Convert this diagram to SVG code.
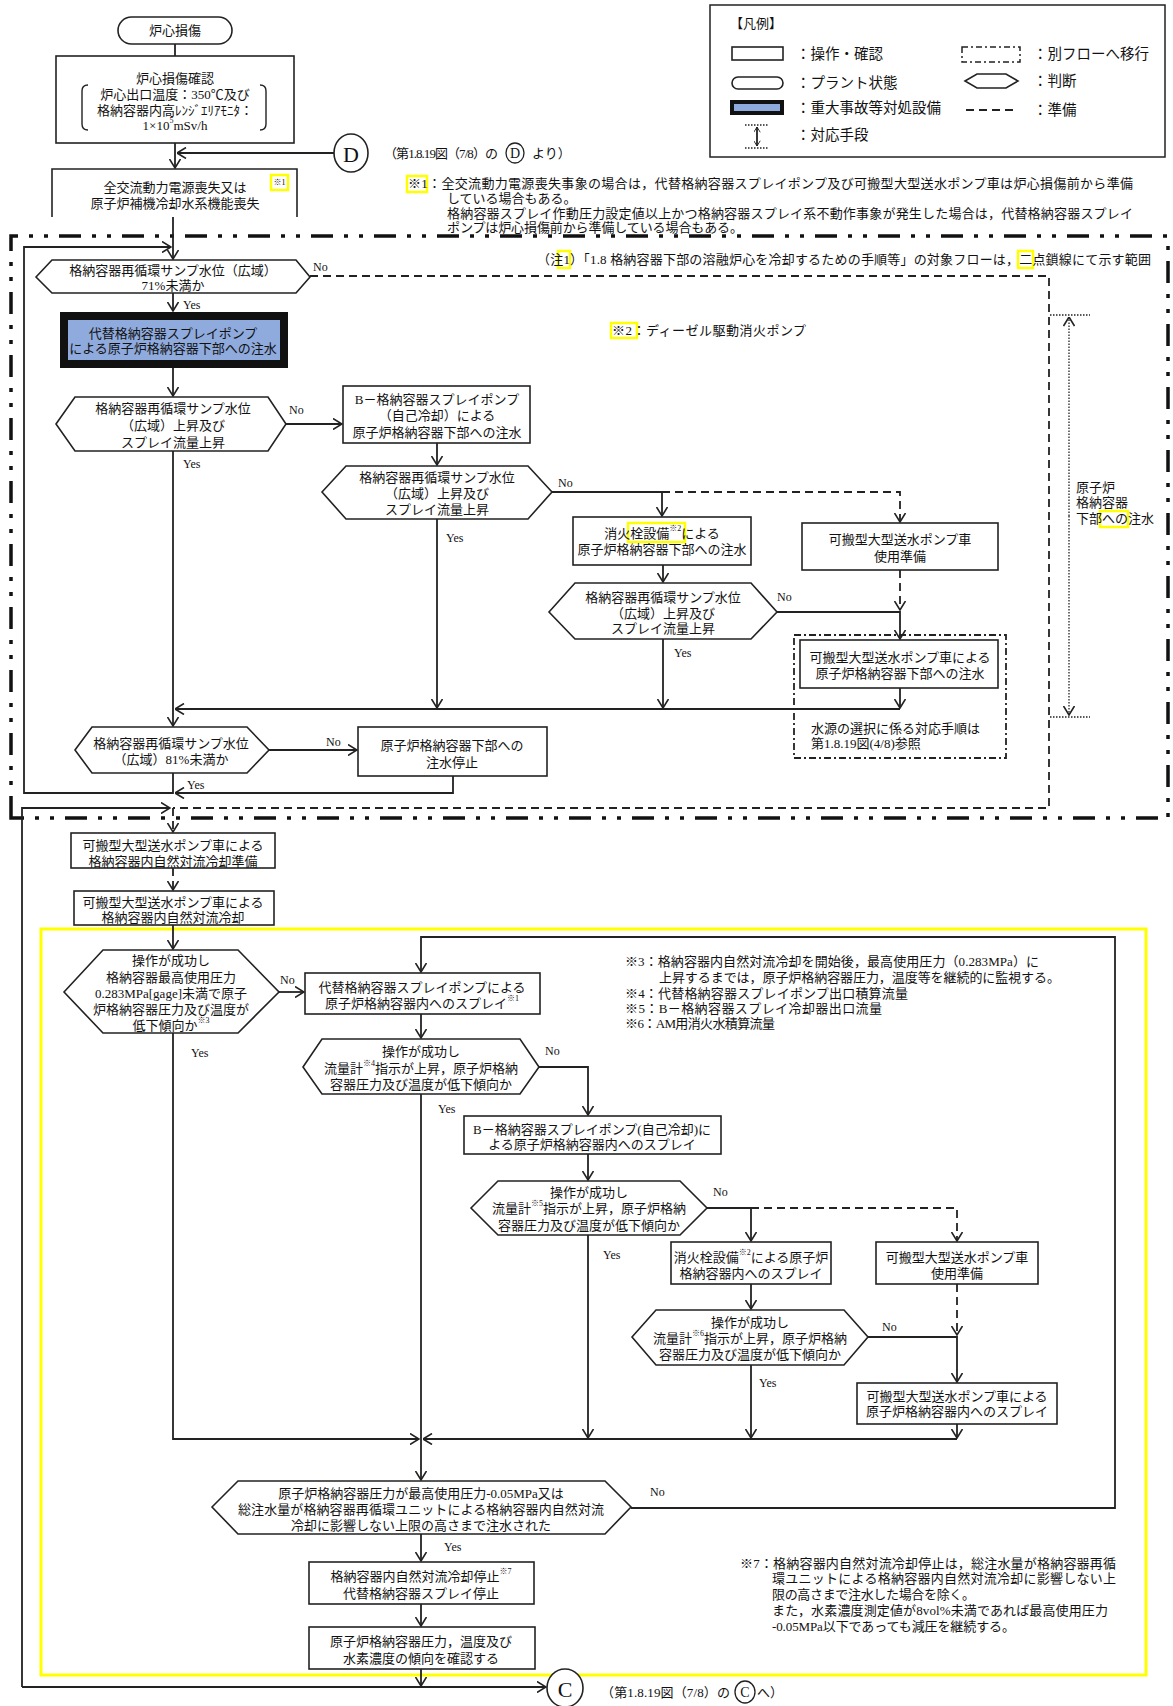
<svg xmlns="http://www.w3.org/2000/svg" width="1173" height="1706" viewBox="0 0 1173 1706">
<defs>
<style>
text{font-family:"Liberation Serif","Noto Sans CJK JP",serif;font-size:13px;fill:#111}
.c{text-anchor:middle;dominant-baseline:central}
.l{dominant-baseline:central}
.yn{font-size:12px;dominant-baseline:central}
.lg{font-size:14.5px;dominant-baseline:central}
.box{fill:#fff;stroke:#222;stroke-width:1.6}
.ln{fill:none;stroke:#222;stroke-width:1.8}
.dash{fill:none;stroke:#222;stroke-width:1.8;stroke-dasharray:8 5}
.dot{fill:none;stroke:#222;stroke-width:1.3;stroke-dasharray:1.5 1.5}
.hl{fill:none;stroke:#ffff00;stroke-width:2.5}
.sup{font-size:8px}
.big{font-size:22px;text-anchor:middle;dominant-baseline:central}
.sml{font-size:14px;text-anchor:middle;dominant-baseline:central}
</style>
<marker id="a" viewBox="0 0 10 12" refX="9.5" refY="6" markerWidth="10" markerHeight="12" markerUnits="userSpaceOnUse" orient="auto"><path d="M0.5,0.5 L9.5,6 L0.5,11.5" fill="none" stroke="#222" stroke-width="1.6"/></marker>
<marker id="s" viewBox="0 0 10 12" refX="9.5" refY="6" markerWidth="6" markerHeight="7" markerUnits="userSpaceOnUse" orient="auto"><path d="M0.5,0.5 L9.5,6 L0.5,11.5" fill="none" stroke="#222" stroke-width="1.6"/></marker>
</defs>
<rect x="0" y="0" width="1173" height="1706" fill="#fff"/>

<!-- region boundaries -->
<g id="boundaries">
<path d="M11,818 V236 H1168 V818 Z" fill="none" stroke="#111" stroke-width="3.5" stroke-dasharray="22 11 4 11 4 11"/>
<rect x="41" y="929" width="1105" height="746" fill="none" stroke="#ffff00" stroke-width="3"/>
</g>

<!-- legend -->
<g id="legend">
<rect x="710" y="5" width="455" height="152" fill="#fff" stroke="#222" stroke-width="1.5"/>
<text x="730" y="23" class="l">【凡例】</text>
<rect x="732" y="47" width="51" height="13" class="box"/>
<text x="796" y="54" class="lg">：操作・確認</text>
<rect x="732" y="77" width="51" height="12" rx="6" class="box"/>
<text x="796" y="83" class="lg">：プラント状態</text>
<rect x="732" y="102" width="50" height="11" fill="#8faadc" stroke="#111" stroke-width="4"/>
<text x="796" y="108" class="lg">：重大事故等対処設備</text>
<path d="M745,125 H769 M745,148 H769" class="dot"/>
<path d="M757,136 V127" class="ln" stroke-width="1.2" marker-end="url(#s)"/>
<path d="M757,136 V146" class="ln" stroke-width="1.2" marker-end="url(#s)"/>
<text x="796" y="135" class="lg">：対応手段</text>
<rect x="962" y="47" width="58" height="15" fill="none" stroke="#222" stroke-width="1.5" stroke-dasharray="6 3 2 3"/>
<text x="1033" y="54" class="lg">：別フローへ移行</text>
<polygon points="965,81 977,74 1006,74 1018,81 1006,88 977,88" class="box"/>
<text x="1033" y="81" class="lg">：判断</text>
<path d="M966,110 H1018" class="dash" stroke-dasharray="6 4"/>
<text x="1033" y="110" class="lg">：準備</text>
</g>

<!-- notes -->
<g id="notes">
<text x="384" y="153" class="l" textLength="114">（第1.8.19図（7/8）の</text>
<ellipse cx="515" cy="153" rx="9" ry="10" fill="none" stroke="#222" stroke-width="1.3"/>
<text x="515" y="153" class="sml">D</text>
<text x="532" y="153" class="l">より）</text>
<rect x="407" y="176" width="20" height="16" class="hl"/>
<text x="408" y="183" class="l" textLength="725">※1：全交流動力電源喪失事象の場合は，代替格納容器スプレイポンプ及び可搬型大型送水ポンプ車は炉心損傷前から準備</text>
<text x="447" y="198" class="l">している場合もある。</text>
<text x="447" y="213" class="l" textLength="686">格納容器スプレイ作動圧力設定値以上かつ格納容器スプレイ系不動作事象が発生した場合は，代替格納容器スプレイ</text>
<text x="447" y="227" class="l" textLength="296">ポンプは炉心損傷前から準備している場合もある。</text>
<rect x="558" y="251" width="12" height="17" class="hl"/>
<rect x="1018" y="251" width="15" height="17" class="hl"/>
<text x="537" y="259" class="l" textLength="614">（注1）「1.8 格納容器下部の溶融炉心を冷却するための手順等」の対象フローは，二点鎖線にて示す範囲</text>
<rect x="611" y="323" width="26" height="15" class="hl"/>
<text x="612" y="330" class="l" textLength="194">※2：ディーゼル駆動消火ポンプ</text>
<text x="1076" y="487" class="l">原子炉</text>
<text x="1076" y="502" class="l">格納容器</text>
<rect x="1100" y="511" width="28" height="16" class="hl"/>
<text x="1076" y="518" class="l">下部への注水</text>
<text x="625" y="961" class="l" textLength="414">※3：格納容器内自然対流冷却を開始後，最高使用圧力（0.283MPa）に</text>
<text x="659" y="977" class="l" textLength="401">上昇するまでは，原子炉格納容器圧力，温度等を継続的に監視する。</text>
<text x="625" y="993" class="l" textLength="283">※4：代替格納容器スプレイポンプ出口積算流量</text>
<text x="625" y="1008" class="l" textLength="257">※5：B－格納容器スプレイ冷却器出口流量</text>
<text x="625" y="1023" class="l" textLength="150">※6：AM用消火水積算流量</text>
<text x="740" y="1563" class="l" textLength="376">※7：格納容器内自然対流冷却停止は，総注水量が格納容器再循</text>
<text x="772" y="1578" class="l" textLength="344">環ユニットによる格納容器内自然対流冷却に影響しない上</text>
<text x="772" y="1594" class="l" textLength="203">限の高さまで注水した場合を除く。</text>
<text x="772" y="1610" class="l" textLength="336">また，水素濃度測定値が8vol%未満であれば最高使用圧力</text>
<text x="772" y="1626" class="l" textLength="243">-0.05MPa以下であっても減圧を継続する。</text>
<text x="601" y="1692" class="l" textLength="129">（第1.8.19図（7/8）の</text>
<ellipse cx="745" cy="1692" rx="10" ry="11" fill="none" stroke="#222" stroke-width="1.3"/>
<text x="745" y="1692" class="sml">C</text>
<text x="757" y="1692" class="l">へ）</text>
</g>

<!-- connectors -->
<g id="connectors">
<path class="ln" d="M175,44 V56"/>
<path class="ln" d="M175,143 V168" marker-end="url(#a)"/>
<path class="ln" d="M334,153 H177" marker-end="url(#a)"/>
<path class="ln" d="M173,217 V259" marker-end="url(#a)"/>
<path class="ln" d="M173,773 V793 H24 V247 H171" marker-end="url(#a)"/>
<path class="ln" d="M453,776 V793 H175" marker-end="url(#a)"/>
<path class="ln" d="M173,293 V311" marker-end="url(#a)"/>
<path class="dash" d="M310,276 H1049 V808 H173"/>
<path class="dash" d="M173,808 V832" marker-end="url(#a)"/>
<path class="ln" d="M22,1687 V808 H170" marker-end="url(#a)"/>
<path class="ln" d="M22,1687 H546" marker-end="url(#a)"/>
<path class="ln" d="M173,368 V396" marker-end="url(#a)"/>
<path class="ln" d="M286,424 H342" marker-end="url(#a)"/>
<path class="ln" d="M173,451 V726" marker-end="url(#a)"/>
<path class="ln" d="M900,688 V708" marker-end="url(#a)"/>
<path class="ln" d="M900,709 H175" marker-end="url(#a)"/>
<path class="ln" d="M437,443 V465" marker-end="url(#a)"/>
<path class="ln" d="M552,492 H662 V516" marker-end="url(#a)"/>
<path class="dash" d="M662,492 H900 V522" marker-end="url(#a)"/>
<path class="ln" d="M437,519 V708" marker-end="url(#a)"/>
<path class="ln" d="M663,565 V582" marker-end="url(#a)"/>
<path class="ln" d="M777,612 H900 V639" marker-end="url(#a)"/>
<path class="dash" d="M900,570 V610" marker-end="url(#a)"/>
<path class="ln" d="M663,639 V708" marker-end="url(#a)"/>
<path class="ln" d="M269,750 H357" marker-end="url(#a)"/>
<path class="dash" d="M173,868 V890" marker-end="url(#a)"/>
<path class="ln" d="M173,925 V949" marker-end="url(#a)"/>
<path class="ln" d="M279,992 H304" marker-end="url(#a)"/>
<path class="ln" d="M173,1033 V1439 H419" marker-end="url(#a)"/>
<path class="ln" d="M631,1508 H1115 V937 H421 V972" marker-end="url(#a)"/>
<path class="ln" d="M421,1014 V1038" marker-end="url(#a)"/>
<path class="ln" d="M539,1067 H588 V1115" marker-end="url(#a)"/>
<path class="ln" d="M421,1094 V1480" marker-end="url(#a)"/>
<path class="ln" d="M588,1154 V1180" marker-end="url(#a)"/>
<path class="ln" d="M707,1208 H751 V1241" marker-end="url(#a)"/>
<path class="dash" d="M751,1208 H957 V1241" marker-end="url(#a)"/>
<path class="ln" d="M588,1235 V1438" marker-end="url(#a)"/>
<path class="ln" d="M751,1284 V1309" marker-end="url(#a)"/>
<path class="ln" d="M868,1337 H957 V1382" marker-end="url(#a)"/>
<path class="dash" d="M957,1284 V1335" marker-end="url(#a)"/>
<path class="ln" d="M751,1365 V1438" marker-end="url(#a)"/>
<path class="ln" d="M957,1424 V1438" marker-end="url(#a)"/>
<path class="ln" d="M957,1439 H423" marker-end="url(#a)"/>
<path class="ln" d="M421,1534 V1561" marker-end="url(#a)"/>
<path class="ln" d="M421,1604 V1626" marker-end="url(#a)"/>
<path class="ln" d="M421,1669 V1686" marker-end="url(#a)"/>
<path class="dot" d="M1050,315 H1090 M1050,717 H1090"/>
<path class="dot" d="M1069,516 V317" marker-end="url(#a)"/>
<path class="dot" d="M1069,516 V715" marker-end="url(#a)"/>
</g>

<!-- labels -->
<g id="labels">
<text x="313" y="267" class="yn">No</text>
<text x="183" y="305" class="yn">Yes</text>
<text x="289" y="410" class="yn">No</text>
<text x="183" y="464" class="yn">Yes</text>
<text x="558" y="483" class="yn">No</text>
<text x="446" y="538" class="yn">Yes</text>
<text x="777" y="597" class="yn">No</text>
<text x="674" y="653" class="yn">Yes</text>
<text x="326" y="742" class="yn">No</text>
<text x="187" y="785" class="yn">Yes</text>
<text x="280" y="980" class="yn">No</text>
<text x="191" y="1053" class="yn">Yes</text>
<text x="545" y="1051" class="yn">No</text>
<text x="438" y="1109" class="yn">Yes</text>
<text x="713" y="1192" class="yn">No</text>
<text x="603" y="1255" class="yn">Yes</text>
<text x="882" y="1327" class="yn">No</text>
<text x="759" y="1383" class="yn">Yes</text>
<text x="650" y="1492" class="yn">No</text>
<text x="444" y="1547" class="yn">Yes</text>
</g>

<!-- nodes -->
<g id="n-start">
<rect x="118" y="17" width="114" height="27" rx="13.5" class="box"/>
<text x="175" y="30.5" class="c">炉心損傷</text>
</g>
<g id="n-confirm">
<rect x="56" y="56" width="238" height="87" class="box"/>
<path d="M88,85 Q82,85 82,91 V124 Q82,130 88,130 M260,85 Q266,85 266,91 V124 Q266,130 260,130" fill="none" stroke="#222" stroke-width="1.4"/>
<text x="175" y="78" class="c">炉心損傷確認</text>
<text x="175" y="94" class="c">炉心出口温度：350℃及び</text>
<text x="175" y="110" class="c">格納容器内高ﾚﾝｼﾞｴﾘｱﾓﾆﾀ：</text>
<text x="175" y="125" class="c">1×10<tspan class="sup" baseline-shift="super">5</tspan>mSv/h</text>
</g>
<g id="n-D">
<ellipse cx="351" cy="153" rx="17" ry="19" class="box"/>
<text x="351" y="154" class="big">D</text>
</g>
<g id="n-loss">
<path d="M52,217 V169 H297 V217" class="box"/>
<rect x="271" y="175" width="17" height="15" class="hl"/>
<text x="279.5" y="182" class="c" style="font-size:8px">※1</text>
<text x="175" y="187" class="c">全交流動力電源喪失又は</text>
<text x="175" y="203" class="c">原子炉補機冷却水系機能喪失</text>
</g>
<g id="n-d71">
<polygon points="36,277 52,260 296,260 310,277 296,293 52,293" class="box"/>
<text x="173" y="270" class="c">格納容器再循環サンプ水位（広域）</text>
<text x="173" y="285" class="c">71%未満か</text>
</g>
<g id="n-altpump">
<rect x="64" y="316" width="220" height="48" fill="#8faadc" stroke="#111" stroke-width="8"/>
<text x="173" y="333" class="c">代替格納容器スプレイポンプ</text>
<text x="173" y="348" class="c">による原子炉格納容器下部への注水</text>
</g>
<g id="n-d2">
<polygon points="56,424 75,397 268,397 286,424 268,451 75,451" class="box"/>
<text x="173" y="408" class="c">格納容器再循環サンプ水位</text>
<text x="173" y="425" class="c">（広域）上昇及び</text>
<text x="173" y="442" class="c">スプレイ流量上昇</text>
</g>
<g id="n-bpump">
<rect x="343" y="386" width="187" height="57" class="box"/>
<text x="437" y="399" class="c">B－格納容器スプレイポンプ</text>
<text x="437" y="415" class="c">（自己冷却）による</text>
<text x="437" y="432" class="c">原子炉格納容器下部への注水</text>
</g>
<g id="n-d3">
<polygon points="322,492 346,466 528,466 552,492 528,519 346,519" class="box"/>
<text x="437" y="477" class="c">格納容器再循環サンプ水位</text>
<text x="437" y="493" class="c">（広域）上昇及び</text>
<text x="437" y="509" class="c">スプレイ流量上昇</text>
</g>
<g id="n-hydrant">
<rect x="573" y="517" width="178" height="48" class="box"/>
<rect x="628" y="523" width="57" height="19" class="hl"/>
<text x="662" y="533" class="c">消火栓設備<tspan class="sup" baseline-shift="super">※2</tspan>による</text>
<text x="662" y="549" class="c">原子炉格納容器下部への注水</text>
</g>
<g id="n-prep1">
<rect x="802" y="523" width="196" height="47" class="box"/>
<text x="900" y="539" class="c">可搬型大型送水ポンプ車</text>
<text x="900" y="556" class="c">使用準備</text>
</g>
<g id="n-d4">
<polygon points="549,612 575,583 751,583 777,612 751,639 575,639" class="box"/>
<text x="663" y="597" class="c">格納容器再循環サンプ水位</text>
<text x="663" y="613" class="c">（広域）上昇及び</text>
<text x="663" y="628" class="c">スプレイ流量上昇</text>
</g>
<g id="n-truck1">
<rect x="794" y="635" width="212" height="123" fill="none" stroke="#222" stroke-width="1.8" stroke-dasharray="7 3 2 3"/>
<rect x="800" y="640" width="198" height="48" class="box"/>
<text x="900" y="657" class="c">可搬型大型送水ポンプ車による</text>
<text x="900" y="673" class="c">原子炉格納容器下部への注水</text>
<text x="811" y="728" class="l">水源の選択に係る対応手順は</text>
<text x="811" y="743" class="l">第1.8.19図(4/8)参照</text>
</g>
<g id="n-d81">
<polygon points="75,750 92,727 247,727 269,750 247,773 92,773" class="box"/>
<text x="171" y="743" class="c">格納容器再循環サンプ水位</text>
<text x="171" y="759" class="c">（広域）81%未満か</text>
</g>
<g id="n-stop1">
<rect x="358" y="727" width="189" height="49" class="box"/>
<text x="452" y="745" class="c">原子炉格納容器下部への</text>
<text x="452" y="762" class="c">注水停止</text>
</g>
<g id="n-ncprep">
<rect x="71" y="833" width="204" height="35" class="box"/>
<text x="173" y="845" class="c">可搬型大型送水ポンプ車による</text>
<text x="173" y="861" class="c">格納容器内自然対流冷却準備</text>
</g>
<g id="n-nc">
<rect x="74" y="891" width="200" height="34" class="box"/>
<text x="173" y="902" class="c">可搬型大型送水ポンプ車による</text>
<text x="173" y="917" class="c">格納容器内自然対流冷却</text>
</g>
<g id="n-d6">
<polygon points="64,992 103,950 238,950 279,992 238,1033 103,1033" class="box"/>
<text x="171" y="960" class="c">操作が成功し</text>
<text x="171" y="977" class="c">格納容器最高使用圧力</text>
<text x="171" y="993" class="c">0.283MPa[gage]未満で原子</text>
<text x="171" y="1009" class="c">炉格納容器圧力及び温度が</text>
<text x="171" y="1025" class="c">低下傾向か<tspan class="sup" baseline-shift="super">※3</tspan></text>
</g>
<g id="n-altspray">
<rect x="305" y="973" width="235" height="41" class="box"/>
<text x="422" y="987" class="c">代替格納容器スプレイポンプによる</text>
<text x="422" y="1003" class="c">原子炉格納容器内へのスプレイ<tspan class="sup" baseline-shift="super">※1</tspan></text>
</g>
<g id="n-d7">
<polygon points="303,1067 322,1039 520,1039 539,1067 520,1094 322,1094" class="box"/>
<text x="421" y="1051" class="c">操作が成功し</text>
<text x="421" y="1068" class="c">流量計<tspan class="sup" baseline-shift="super">※4</tspan>指示が上昇，原子炉格納</text>
<text x="421" y="1084" class="c">容器圧力及び温度が低下傾向か</text>
</g>
<g id="n-bspray">
<rect x="464" y="1116" width="257" height="38" class="box"/>
<text x="592" y="1129" class="c">B－格納容器スプレイポンプ(自己冷却)に</text>
<text x="592" y="1144" class="c">よる原子炉格納容器内へのスプレイ</text>
</g>
<g id="n-d8">
<polygon points="471,1208 498,1181 680,1181 707,1208 680,1235 498,1235" class="box"/>
<text x="589" y="1192" class="c">操作が成功し</text>
<text x="589" y="1208" class="c">流量計<tspan class="sup" baseline-shift="super">※5</tspan>指示が上昇，原子炉格納</text>
<text x="589" y="1225" class="c">容器圧力及び温度が低下傾向か</text>
</g>
<g id="n-hydspray">
<rect x="671" y="1242" width="160" height="42" class="box"/>
<text x="751" y="1257" class="c">消火栓設備<tspan class="sup" baseline-shift="super">※2</tspan>による原子炉</text>
<text x="751" y="1273" class="c">格納容器内へのスプレイ</text>
</g>
<g id="n-prep2">
<rect x="876" y="1242" width="162" height="42" class="box"/>
<text x="957" y="1257" class="c">可搬型大型送水ポンプ車</text>
<text x="957" y="1273" class="c">使用準備</text>
</g>
<g id="n-d9">
<polygon points="632,1337 656,1310 844,1310 868,1337 844,1365 656,1365" class="box"/>
<text x="750" y="1322" class="c">操作が成功し</text>
<text x="750" y="1338" class="c">流量計<tspan class="sup" baseline-shift="super">※6</tspan>指示が上昇，原子炉格納</text>
<text x="750" y="1354" class="c">容器圧力及び温度が低下傾向か</text>
</g>
<g id="n-truckspray">
<rect x="857" y="1383" width="200" height="41" class="box"/>
<text x="957" y="1396" class="c">可搬型大型送水ポンプ車による</text>
<text x="957" y="1411" class="c">原子炉格納容器内へのスプレイ</text>
</g>
<g id="n-d10">
<polygon points="212,1507 238,1481 605,1481 631,1507 605,1534 238,1534" class="box"/>
<text x="421" y="1493" class="c">原子炉格納容器圧力が最高使用圧力-0.05MPa又は</text>
<text x="421" y="1509" class="c" textLength="366">総注水量が格納容器再循環ユニットによる格納容器内自然対流</text>
<text x="421" y="1525" class="c">冷却に影響しない上限の高さまで注水された</text>
</g>
<g id="n-ncstop">
<rect x="309" y="1562" width="225" height="42" class="box"/>
<text x="421" y="1576" class="c">格納容器内自然対流冷却停止<tspan class="sup" baseline-shift="super">※7</tspan></text>
<text x="421" y="1593" class="c">代替格納容器スプレイ停止</text>
</g>
<g id="n-check">
<rect x="309" y="1627" width="226" height="42" class="box"/>
<text x="421" y="1641" class="c">原子炉格納容器圧力，温度及び</text>
<text x="421" y="1658" class="c">水素濃度の傾向を確認する</text>
</g>
<g id="n-C">
<ellipse cx="565" cy="1688" rx="18" ry="19" class="box"/>
<text x="565" y="1689" class="big">C</text>
</g>
</svg>
